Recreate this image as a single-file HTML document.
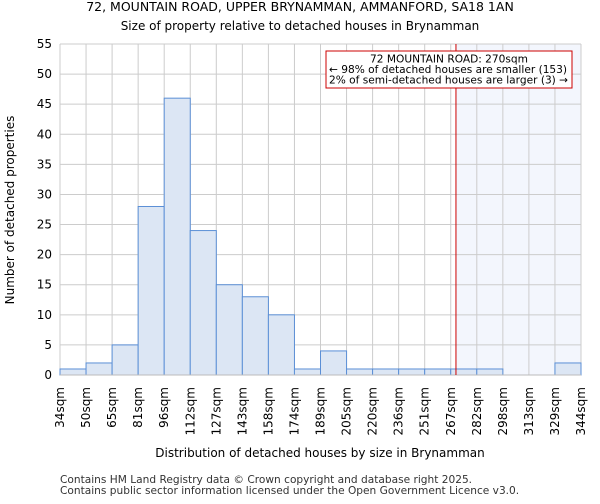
<!DOCTYPE html>
<html><head><meta charset="utf-8"><style>
body{margin:0;background:#fff;font-family:"DejaVu Sans","Liberation Sans",sans-serif}
</style></head><body>
<svg id="chart" width="600" height="500" xmlns="http://www.w3.org/2000/svg" font-family="DejaVu Sans, Liberation Sans, sans-serif">
<text x="300" y="11" text-anchor="middle" font-size="12.5">72, MOUNTAIN ROAD, UPPER BRYNAMMAN, AMMANFORD, SA18 1AN</text>
<text x="300" y="30" text-anchor="middle" font-size="12">Size of property relative to detached houses in Brynamman</text>
<g id="grid"></g><g id="bars"></g><g id="axes"></g>
<text x="320" y="457" text-anchor="middle" font-size="12">Distribution of detached houses by size in Brynamman</text>
<text transform="translate(14,210) rotate(-90)" text-anchor="middle" font-size="12">Number of detached properties</text>
<text x="60" y="483" font-size="10.6" fill="#333">Contains HM Land Registry data © Crown copyright and database right 2025.</text>
<text x="60" y="494" font-size="10.6" fill="#333">Contains public sector information licensed under the Open Government Licence v3.0.</text>
</svg>
<script>
const binLabels=["34sqm","50sqm","65sqm","81sqm","96sqm","112sqm","127sqm","143sqm","158sqm","174sqm","189sqm","205sqm","220sqm","236sqm","251sqm","267sqm","282sqm","298sqm","313sqm","329sqm","344sqm"];
const binEdges=[34,50,65,81,96,112,127,143,158,174,189,205,220,236,251,267,282,298,313,329,344];
const counts=[1,2,5,28,46,24,15,13,10,1,4,1,1,1,1,1,1,0,0,2];
const yTicks=[0,5,10,15,20,25,30,35,40,45,50,55];
const markerValue=270;
const NS="http://www.w3.org/2000/svg";
const X0=60,X1=581,Y0=375,Y1=44,yMax=55;
const nb=counts.length;
function xIdx(i){return X0+(X1-X0)*i/nb;}
function xVal(v){let i=0;while(i<nb-1&&v>binEdges[i+1])i++;return xIdx(i+(v-binEdges[i])/(binEdges[i+1]-binEdges[i]));}
function y(v){return Y0-(Y0-Y1)*v/yMax;}
function mk(p,t,a){const e=document.createElementNS(NS,t);for(const k in a)e.setAttribute(k,a[k]);p.appendChild(e);return e;}
const grid=document.getElementById('grid'),bars=document.getElementById('bars'),axes=document.getElementById('axes');
const mx=xVal(markerValue);
const shade=mk(grid,'rect',{x:mx,y:Y1,width:X1-mx,height:Y0-Y1,fill:'#f3f6fd'});


yTicks.forEach(t=>{
 const l=mk(grid,'line',{x1:X0,x2:X1,y1:y(t),y2:y(t),stroke:'#ccc','stroke-width':1});
 
 
 const tx=mk(axes,'text',{x:X0-8,y:y(t)+4,'text-anchor':'end','font-size':12});
 
 
 tx.textContent=t;
});
binLabels.forEach((s,i)=>{
 const l=mk(grid,'line',{x1:xIdx(i),x2:xIdx(i),y1:Y1,y2:Y0,stroke:'#ccc','stroke-width':1});
 
 
 const tx=mk(axes,'text',{transform:`translate(${xIdx(i)+4},${Y0+12}) rotate(-90)`,'text-anchor':'end','font-size':12});
 
 
 tx.textContent=s;
});
counts.forEach((c,i)=>{
 if(c<=0)return;
 const r=mk(bars,'rect',{x:xIdx(i),y:y(c),width:xIdx(i+1)-xIdx(i),height:Y0-y(c),fill:'#dce6f4',stroke:'#5b8fd6','stroke-width':1});
 
 
});
const ax=mk(axes,'line',{x1:X0,x2:X1,y1:Y0,y2:Y0,stroke:'#bbb','stroke-width':1});


const ml=mk(axes,'line',{x1:mx,x2:mx,y1:Y1,y2:Y0,stroke:'#cc0000','stroke-width':1});


const g=mk(axes,'g',{});


mk(g,'rect',{x:326,y:51,width:246,height:37,fill:'#fff',stroke:'#cc0000','stroke-width':1});
[["72 MOUNTAIN ROAD: 270sqm",449,'middle'],["← 98% of detached houses are smaller (153)",329,'start'],["2% of semi-detached houses are larger (3) →",329,'start']].forEach((a,i)=>{
 const t=mk(g,'text',{x:a[1],y:62.5+i*10.5,'text-anchor':a[2],'font-size':10.6});
 
 
 t.textContent=a[0];
});
</script>
</body></html>
